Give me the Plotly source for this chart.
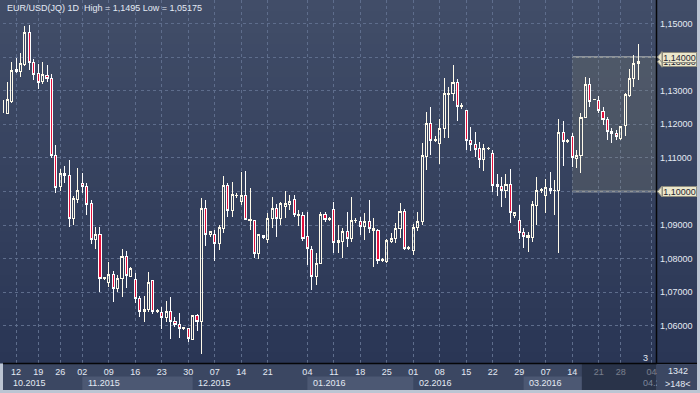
import plotly.graph_objects as go

# ---------------- data ----------------
opens = [
    1.1236, 1.1233, 1.1269, 1.1364, 1.1357, 1.1377, 1.1474, 1.1384, 1.1352, 1.1327,
    1.1346, 1.1337, 1.1107, 1.1014, 1.1054, 1.1049, 1.0920, 1.0975, 1.1024, 1.1016,
    1.0965, 1.0856, 1.0873, 1.0741, 1.0729, 1.0754, 1.0712, 1.0740, 1.0806, 1.0746,
    1.0737, 1.0682, 1.0642, 1.0649, 1.0734, 1.0643, 1.0641, 1.0626, 1.0644, 1.0614,
    1.0605, 1.0593, 1.0591, 1.0561, 1.0630, 1.0613, 1.0950, 1.0873, 1.0873, 1.0846,
    1.0891, 1.1019, 1.0943, 1.0987, 1.0970, 1.0987, 1.0913, 1.0913, 1.0816, 1.0869,
    1.0858, 1.0920, 1.0950, 1.0920, 1.0955, 1.0962, 1.0975, 1.0928, 1.0930, 1.0866,
    1.0828, 1.0746, 1.0786, 1.0933, 1.0917, 1.0945, 1.0849, 1.0851, 1.0882, 1.0861,
    1.0914, 1.0910, 1.0895, 1.0910, 1.0883, 1.0885, 1.0796, 1.0793, 1.0851, 1.0859,
    1.0891, 1.0940, 1.0831, 1.0824, 1.0892, 1.0910, 1.1104, 1.1203, 1.1152, 1.1144,
    1.1188, 1.1290, 1.1292, 1.1325, 1.1253, 1.1240, 1.1153, 1.1141, 1.1129, 1.1094,
    1.1127, 1.1114, 1.1022, 1.1016, 1.1002, 1.1022, 1.0930, 1.0915, 1.0879, 1.0864,
    1.0864, 1.0958, 1.1003, 1.0988, 1.1010, 1.1003, 1.1002, 1.1176, 1.1149, 1.1165,
    1.1099, 1.1107, 1.1221, 1.1319, 1.1274, 1.1272, 1.1238, 1.1215, 1.1180, 1.1173,
    1.1158, 1.1195, 1.1285, 1.1337, 1.1380,
]
highs = [
    1.1274, 1.1327, 1.1386, 1.1396, 1.1411, 1.1493, 1.1495, 1.1394, 1.1379, 1.1385,
    1.1377, 1.1349, 1.1138, 1.1067, 1.1077, 1.1094, 1.0988, 1.1069, 1.1054, 1.1026,
    1.0975, 1.0894, 1.0894, 1.0746, 1.0791, 1.0763, 1.0752, 1.0829, 1.0823, 1.0774,
    1.0757, 1.0689, 1.0689, 1.0760, 1.0737, 1.0649, 1.0655, 1.0674, 1.0687, 1.0627,
    1.0638, 1.0598, 1.0593, 1.0632, 1.0635, 1.0980, 1.0975, 1.0882, 1.0885, 1.0900,
    1.1046, 1.1026, 1.1029, 1.0995, 1.1059, 1.1061, 1.1010, 1.0915, 1.0874, 1.0871,
    1.0935, 1.0985, 1.0962, 1.0968, 1.1002, 1.0990, 1.0990, 1.0945, 1.0940, 1.0939,
    1.0838, 1.0816, 1.0940, 1.0938, 1.0925, 1.0970, 1.0900, 1.0891, 1.0940, 1.0985,
    1.0920, 1.0925, 1.0935, 1.0975, 1.0920, 1.0888, 1.0801, 1.0858, 1.0876, 1.0905,
    1.0965, 1.0947, 1.0837, 1.0902, 1.0940, 1.1144, 1.1236, 1.1252, 1.1165, 1.1215,
    1.1339, 1.1310, 1.1377, 1.1335, 1.1263, 1.1243, 1.1193, 1.1178, 1.1148, 1.1141,
    1.1132, 1.1124, 1.1052, 1.1044, 1.1052, 1.1066, 1.0940, 1.0960, 1.0892, 1.0880,
    1.0972, 1.1042, 1.1011, 1.1036, 1.1059, 1.1034, 1.1216, 1.1211, 1.1156, 1.1173,
    1.1124, 1.1234, 1.1342, 1.1337, 1.1276, 1.1284, 1.1252, 1.1221, 1.1188, 1.1183,
    1.1195, 1.1292, 1.1365, 1.1406, 1.1439,
]
lows = [
    1.1232, 1.1231, 1.1263, 1.1352, 1.1342, 1.1374, 1.1362, 1.1332, 1.1304, 1.1319,
    1.1327, 1.1099, 1.0995, 1.1002, 1.1026, 1.0894, 1.0900, 1.0965, 1.0996, 1.0930,
    1.0844, 1.0828, 1.0702, 1.0737, 1.0717, 1.0672, 1.0702, 1.0687, 1.0712, 1.0745,
    1.0669, 1.0627, 1.0613, 1.0642, 1.0635, 1.0638, 1.0590, 1.0613, 1.0561, 1.0598,
    1.0565, 1.0588, 1.0553, 1.0558, 1.0585, 1.05175, 1.0838, 1.0866, 1.0794, 1.0826,
    1.0876, 1.0925, 1.0925, 1.0980, 1.0960, 1.0915, 1.0885, 1.0801, 1.0799, 1.0860,
    1.0846, 1.0891, 1.0866, 1.0900, 1.0920, 1.0945, 1.0925, 1.0897, 1.0854, 1.0781,
    1.0707, 1.0722, 1.0784, 1.0910, 1.0913, 1.0816, 1.0816, 1.0801, 1.0834, 1.0851,
    1.0905, 1.0871, 1.0856, 1.0876, 1.0774, 1.0784, 1.0791, 1.0788, 1.0848, 1.0846,
    1.0861, 1.0826, 1.0827, 1.0811, 1.0882, 1.0900, 1.1064, 1.1109, 1.1148, 1.1082,
    1.1160, 1.1158, 1.1269, 1.1211, 1.1246, 1.1124, 1.1120, 1.1104, 1.1069, 1.1061,
    1.1124, 1.0999, 1.0988, 1.0955, 1.0982, 1.0905, 1.0920, 1.0858, 1.0831, 1.0821,
    1.0851, 1.0900, 1.0996, 1.0937, 1.0992, 1.0930, 1.0818, 1.1077, 1.1144, 1.1074,
    1.1069, 1.1056, 1.1219, 1.1252, 1.1273, 1.1233, 1.1198, 1.1153, 1.1144, 1.1153,
    1.1153, 1.1166, 1.1282, 1.1310, 1.1332,
]
closes = [
    1.1272, 1.1275, 1.1359, 1.1356, 1.1380, 1.1474, 1.1383, 1.1347, 1.1325, 1.1347,
    1.1337, 1.1107, 1.1013, 1.1054, 1.1047, 1.0920, 1.0978, 1.1002, 1.1014, 1.0962,
    1.0856, 1.0873, 1.0742, 1.0743, 1.0754, 1.0712, 1.0740, 1.0806, 1.0749, 1.0771,
    1.0682, 1.0642, 1.0649, 1.0730, 1.0642, 1.0645, 1.0626, 1.0644, 1.0613, 1.0605,
    1.0593, 1.0594, 1.0563, 1.0630, 1.0613, 1.0950, 1.0873, 1.0880, 1.0846, 1.0894,
    1.1019, 1.0943, 1.0990, 1.0989, 1.0987, 1.0917, 1.0917, 1.0816, 1.0871, 1.0862,
    1.0920, 1.0950, 1.0920, 1.0963, 1.0963, 1.0970, 1.0932, 1.0933, 1.0861, 1.0829,
    1.0746, 1.0786, 1.0933, 1.0917, 1.0919, 1.0848, 1.0853, 1.0882, 1.0861, 1.0915,
    1.0915, 1.0895, 1.0910, 1.0891, 1.0891, 1.0796, 1.0797, 1.0854, 1.0859, 1.0891,
    1.0940, 1.0831, 1.0832, 1.0894, 1.0912, 1.1106, 1.1203, 1.1151, 1.1154, 1.1188,
    1.1292, 1.1292, 1.1325, 1.1252, 1.1255, 1.1151, 1.1140, 1.1126, 1.1094, 1.1129,
    1.1128, 1.1019, 1.1014, 1.1002, 1.1022, 1.0938, 1.0938, 1.0877, 1.0866, 1.0869,
    1.0960, 1.1002, 1.1005, 1.1011, 1.1002, 1.1004, 1.1176, 1.1148, 1.1151, 1.1102,
    1.1106, 1.1221, 1.1319, 1.1267, 1.1275, 1.1240, 1.1215, 1.1180, 1.1173, 1.1163,
    1.1193, 1.1289, 1.1337, 1.1380, 1.1386,
]

# bar index of each weekly tick and its label
x_tick_idx = [3, 8, 13, 18, 24, 30, 36, 42, 48, 54, 60, 69, 75, 81, 87, 93,
              99, 105, 111, 117, 123, 129, 135, 140, 147]
x_tick_text = ["12", "19", "26", "02", "09", "16", "23", "30", "07", "14", "21",
               "04", "11", "18", "25", "01", "08", "15", "22", "29", "07", "14",
               "21", "28", "04"]
# first bar of each month and its label
month_idx = [1, 18, 43, 69, 93, 118, 144]
month_text = ["10.2015", "11.2015", "12.2015", "01.2016", "02.2016", "03.2016", "04.2016"]

y_tick_vals = [1.06, 1.07, 1.08, 1.09, 1.10, 1.11, 1.12, 1.13, 1.14, 1.15]

zone_start_idx = 129          # highlighted zone (Mar 14 onward)
zone_low, zone_high = 1.10, 1.14
last_close = closes[-1]
title_text = "EUR/USD(JQ) 1D  High = 1,1495 Low = 1,05175"


def fmt(v):
    return "1,%05d" % round((v - 1) * 100000)


# levels carrying a price tag show their value in the tag instead of the scale
y_tick_text = ["" if v in (zone_low, zone_high) else fmt(v) for v in y_tick_vals]

# ---------------- geometry ----------------
W, H = 700, 393
ML, MR, MT, MB = 3, 44, 0, 30
PW, PH = W - ML - MR, H - MT - MB
X_RANGE = [0.03, 148.0]
Y_RANGE = [1.04896, 1.15699]


def pxx(xpix):          # pixel x -> paper x
    return (xpix - ML) / PW


def pxy(ypix):          # pixel y (from top) -> paper y
    return (H - MB - ypix) / PH


def ix2p(i):            # bar index -> paper x
    return (i - X_RANGE[0]) / (X_RANGE[1] - X_RANGE[0])


def v2p(v):             # price -> paper y
    return (v - Y_RANGE[0]) / (Y_RANGE[1] - Y_RANGE[0])


FONT = "Liberation Sans, Arial, sans-serif"
TXT = "#e4eaf4"
STRIP = "#3b4762"

fig = go.Figure()
fig.add_trace(go.Candlestick(
    x=list(range(len(opens))), open=opens, high=highs, low=lows, close=closes,
    increasing=dict(line=dict(color="#fffbea", width=1), fillcolor="rgba(0,0,0,0)"),
    decreasing=dict(line=dict(color="#ffffff", width=1), fillcolor="#e3103c"),
    whiskerwidth=0, hoverinfo="skip", showlegend=False,
))

shapes = []
# vertical gradient background (plot + right scale)
top_c, bot_c = (65, 77, 104), (42, 54, 85)
n = 33
for k in range(n):
    t = k / (n - 1)
    c = tuple(round(top_c[j] + (bot_c[j] - top_c[j]) * t) for j in range(3))
    y0 = MT + PH * k / n
    y1 = MT + PH * (k + 1) / n
    shapes.append(dict(type="rect", xref="paper", yref="paper", layer="below",
                       x0=pxx(0), x1=pxx(697), y0=pxy(y1 + 0.5), y1=pxy(y0),
                       fillcolor="rgb(%d,%d,%d)" % c, line=dict(width=0)))
# bottom time strip
shapes.append(dict(type="rect", xref="paper", yref="paper", layer="below",
                   x0=pxx(3), x1=pxx(697), y0=pxy(390), y1=pxy(363),
                   fillcolor=STRIP, line=dict(width=0)))
# alternate month boxes
for m in (1, 3, 5):
    end = month_idx[m + 1] if m < 5 else 131.2
    shapes.append(dict(type="rect", xref="paper", yref="paper", layer="below",
                       x0=ix2p(month_idx[m]), x1=ix2p(end), y0=pxy(390), y1=pxy(376.5),
                       fillcolor="#4c5873", line=dict(width=0)))
# darkened tail of the time strip
shapes.append(dict(type="rect", xref="paper", yref="paper", layer="above",
                   x0=ix2p(131.2), x1=1.0, y0=pxy(390), y1=pxy(364),
                   fillcolor="rgba(28,34,52,0.55)", line=dict(width=0)))
# highlighted zone
shapes.append(dict(type="rect", xref="x", yref="y", layer="between",
                   x0=zone_start_idx, x1=X_RANGE[1], y0=zone_low, y1=zone_high,
                   fillcolor="rgba(150,152,120,0.20)", line=dict(width=0)))
for lv in (zone_low, zone_high):
    shapes.append(dict(type="line", xref="paper", yref="paper", layer="between",
                       x0=ix2p(zone_start_idx), x1=pxx(658), y0=v2p(lv), y1=v2p(lv),
                       line=dict(color="#8d939b", width=2)))
# axis frame lines
shapes.append(dict(type="line", xref="paper", yref="paper", layer="above",
                   x0=pxx(3), x1=pxx(697), y0=pxy(363.5), y1=pxy(363.5),
                   line=dict(color="#050608", width=1.5)))
shapes.append(dict(type="line", xref="paper", yref="paper", layer="above",
                   x0=pxx(656.5), x1=pxx(656.5), y0=pxy(363.5), y1=pxy(0),
                   line=dict(color="#050608", width=1.5)))
# price tag pointers
for lv in (last_close, zone_high, zone_low):
    yc = v2p(lv)
    dy = 5.5 / PH
    shapes.append(dict(type="path", xref="paper", yref="paper", layer="above",
                       path="M %f %f L %f %f L %f %f Z" % (pxx(657.5), yc, pxx(662), yc + dy,
                                                          pxx(662), yc - dy),
                       fillcolor="#ece8cc", line=dict(color="#8f8d7f", width=1)))

annotations = [
    dict(text=title_text, xref="paper", yref="paper", x=pxx(5), y=pxy(8.5),
         xanchor="left", yanchor="middle", showarrow=False,
         font=dict(family=FONT, size=9, color=TXT)),
    dict(text="3", xref="paper", yref="paper", x=pxx(645.5), y=pxy(358),
         xanchor="center", yanchor="middle", showarrow=False,
         font=dict(family=FONT, size=9, color=TXT)),
]
for k, (i, t) in enumerate(zip(month_idx, month_text)):
    last = k == len(month_idx) - 1
    ann = dict(text=t, xref="x", yref="paper", x=i, xshift=3.5,
               y=pxy(383), xanchor="left", yanchor="middle", showarrow=False,
               font=dict(family=FONT, size=9, color="#7d879c" if last else TXT))
    if last:   # the time axis ends here, so the label is cut at the scale edge
        ann.update(width=14, align="left", borderpad=0)
    annotations.append(ann)
# lower-right box of the scale (covers the tick label running past the axis end)
annotations.append(dict(text=" ", xref="paper", yref="paper", x=pxx(657.3), y=pxy(364.3),
                        xanchor="left", yanchor="top", showarrow=False,
                        width=40, height=26, borderpad=0, borderwidth=0,
                        bgcolor=STRIP, font=dict(family=FONT, size=9, color=TXT)))
annotations += [
    dict(text="1342", xref="paper", yref="paper", x=pxx(678), y=pxy(371),
         xanchor="center", yanchor="middle", showarrow=False,
         font=dict(family=FONT, size=9, color=TXT)),
    dict(text="&gt;148&lt;", xref="paper", yref="paper", x=pxx(677.5), y=pxy(384),
         xanchor="center", yanchor="middle", showarrow=False,
         font=dict(family=FONT, size=9, color=TXT)),
]
# price tags (current price first, so the 1,14000 tag covers it)
for lv in (last_close, zone_high, zone_low):
    annotations.append(dict(text=fmt(lv),
                            xref="paper", yref="paper", x=pxx(679.5), y=v2p(lv),
                            xanchor="center", yanchor="middle", showarrow=False,
                            width=33, height=9, borderpad=0, borderwidth=1,
                            bgcolor="#ece8cc", bordercolor="#8f8d7f",
                            font=dict(family=FONT, size=9, color="#1d2533")))

fig.update_layout(
    width=W, height=H,
    margin=dict(l=ML, r=MR, t=MT, b=MB, pad=0),
    paper_bgcolor="#bcc5d3", plot_bgcolor="rgba(0,0,0,0)",
    boxgap=0.32,
    shapes=shapes, annotations=annotations,
    xaxis=dict(range=X_RANGE, tickmode="array", tickvals=x_tick_idx, ticktext=x_tick_text,
               showgrid=True, gridcolor="#5e6d8c", griddash="dot", gridwidth=1,
               zeroline=False, showline=False, ticks="", ticklabelstandoff=2,
               tickfont=dict(family=FONT, size=9, color=TXT),
               rangeslider=dict(visible=False), fixedrange=True),
    yaxis=dict(range=Y_RANGE, side="right", tickmode="array", tickvals=y_tick_vals,
               ticktext=y_tick_text, showgrid=True, gridcolor="#5e6d8c", griddash="dot",
               gridwidth=1, zeroline=False, showline=False, ticks="",
               ticklabelstandoff=3,
               tickfont=dict(family=FONT, size=9, color=TXT), fixedrange=True),
)

post = """
document.body.style.margin='0';
document.body.style.overflow='hidden';
document.querySelectorAll('.boxlayer path').forEach(function(p){
    p.style.shapeRendering='crispEdges';
});
"""
fig.write_html("out.html", config={"displayModeBar": False}, post_script=post)
